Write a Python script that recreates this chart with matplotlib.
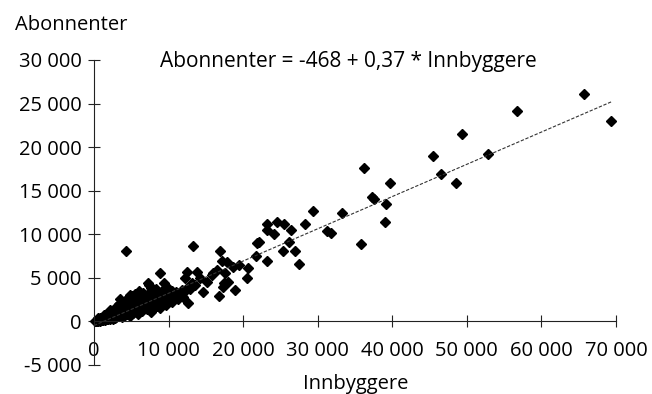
import numpy as np
import matplotlib
matplotlib.use("Agg")
import matplotlib.pyplot as plt

plt.rcParams['font.family'] = ['Open Sans', 'DejaVu Sans']

# kommuner: innbyggere og abonnenter
innbyggere = [
    150, 250, 300, 350, 400, 450, 500, 550, 600, 650, 700, 750, 800, 850, 900, 950,
    1000, 1050, 1100, 1150, 1200, 1250, 1300, 1350, 1400, 1450, 1500, 1550, 1600, 1650,
    1700, 1750, 1800, 1850, 1900, 1950, 2000, 2050, 2100, 2150, 2200, 2250, 2300, 2350,
    2400, 2450, 2500, 2550, 2600, 2650, 2700, 2750, 2800, 2850, 2900, 2950, 3000, 3100,
    3200, 3300, 3400, 3500, 3600, 3700, 3800, 3900, 4000, 4100, 4200, 4290, 4300, 4400,
    4500, 4600, 4700, 4800, 4900, 5000, 5100, 5200, 5300, 5400, 5500, 5600, 5700, 5800,
    5900, 6000, 6100, 6200, 6300, 6400, 6500, 6600, 6700, 6800, 6900, 7000, 7100, 7200,
    7300, 7400, 7500, 7600, 7700, 7800, 7900, 8000, 8100, 8200, 8300, 8400, 8500, 8600,
    8700, 8800, 8900, 9000, 9100, 9200, 9400, 9500, 9600, 9700, 9800, 9900, 10000, 10200,
    10400, 10600, 10800, 11000, 11200, 11500, 11750, 11970, 12200, 12420, 12510, 12640,
    13090, 13310, 13540, 13850, 14210, 14650, 15190, 15770, 16000, 16440, 16800, 16890,
    17120, 17250, 17430, 17560, 17870, 18000, 18680, 18900, 19480, 20550, 20690, 21720,
    21890, 22080, 23150, 23240, 23240, 24130, 24490, 25290, 25470, 26100, 26450, 26990,
    27520, 28240, 29310, 31230, 31820, 33290, 35830, 36150, 37220, 37530, 39050, 39190,
    39720, 45400, 46470, 48530, 49330, 52900, 56700, 65730, 69300,
    # ekstra små og mellomstore kommuner
    600, 1300, 2200, 2900, 3500, 4100, 4800, 5500, 6200, 7600, 8400, 9300, 10500, 11400,
    12000, 12900,
]
abonnenter = [
    40, 60, 100, 50, 120, 150, 90, 120, 200, 250, 150, 100, 300, 350, 180, 200,
    400, 150, 250, 450, 350, 200, 500, 400, 300, 150, 600, 300, 420, 550,
    250, 400, 700, 300, 500, 650, 350, 450, 800, 250, 600, 550, 400, 700,
    900, 450, 700, 1000, 300, 550, 1100, 350, 800, 650, 500, 900, 1200, 950,
    600, 2000, 1400, 800, 1700, 1100, 500, 1900, 1300, 700, 2300, 8080, 1600, 900,
    2700, 1800, 1200, 600, 2100, 1500, 2900, 1000, 2400, 1800, 3200, 1300, 2600, 2000,
    900, 3500, 2300, 1600, 3000, 2700, 1200, 3300, 2100, 1800, 2900, 2500, 1400, 4400,
    3200, 4200, 2200, 1100, 2800, 3400, 1900, 3000, 2400, 1600, 3700, 2700, 2000, 3300,
    2500, 5500, 1500, 2900, 2200, 3600, 4400, 2600, 3100, 1900, 3400, 2800, 3700, 2400,
    3500, 3000, 2800, 3420, 2600, 3040, 3610, 2840, 4950, 3810, 5710, 2090,
    4380, 8660, 4190, 5710, 4950, 3420, 4570, 5330, 5530, 5910, 2960, 8080,
    6970, 3990, 4380, 5530, 6860, 4570, 6280, 3610, 6480, 4950, 6100, 7510,
    9040, 9080, 10490, 11180, 6970, 10030, 11450, 8080, 11150, 9080, 10490, 8080,
    6560, 11150, 12640, 10380, 10150, 12440, 8920, 17600, 14310, 14080, 11450, 13510,
    15920, 18940, 16880, 15850, 21540, 19170, 24170, 26120, 22960,
    350, 700, 1300, 1600, 2600, 2000, 3000, 2200, 2600, 3800, 1800, 2500, 2200, 2900,
    3300, 3700,
]

# regresjonslinje
a, b = -468, 0.37
x_linje = [0, 69500]

fig = plt.figure(figsize=(6.52, 3.94), dpi=100)
ax = fig.add_axes([94 / 652, 1 - 365 / 394, 522 / 652, 305 / 394])

ax.plot(innbyggere, abonnenter, 'D', color='black', markersize=4.8, clip_on=False)
ax.plot(x_linje, [a + b * x for x in x_linje], color='#333333', linewidth=0.8,
        linestyle=(0, (3, 1.5)))

ax.set_xlim(0, 70000)
ax.set_ylim(-5000, 30000)
ax.spines['top'].set_visible(False)
ax.spines['right'].set_visible(False)
ax.spines['bottom'].set_position(('data', 0))
for s in ('left', 'bottom'):
    ax.spines[s].set_linewidth(0.8)
    ax.spines[s].set_color('#222222')

xt = np.arange(0, 70001, 10000)
yt = np.arange(-5000, 30001, 5000)
ax.set_xticks(xt)
ax.set_yticks(yt)
ax.set_xticklabels([f"{v:,}".replace(",", " ") for v in xt])
ax.set_yticklabels([f"{v:,}".replace(",", " ") for v in yt])
ax.tick_params(axis='both', direction='inout', length=8, width=0.8, color='#222222',
               labelsize=14.5)
ax.tick_params(axis='x', pad=10)
ax.tick_params(axis='y', pad=5)

fs = 14.5
fig.text(15 / 652, 1 - 25 / 394, "Abonnenter", fontsize=fs, va='center', ha='left')
fig.text(356 / 652, 1 - 384 / 394, "Innbyggere", fontsize=fs, va='center', ha='center')
fig.text(160 / 652, 1 - 62 / 394, "Abonnenter = -468 + 0,37 * Innbyggere", fontsize=15,
         va='center', ha='left')

fig.savefig("out.png", dpi=100)
